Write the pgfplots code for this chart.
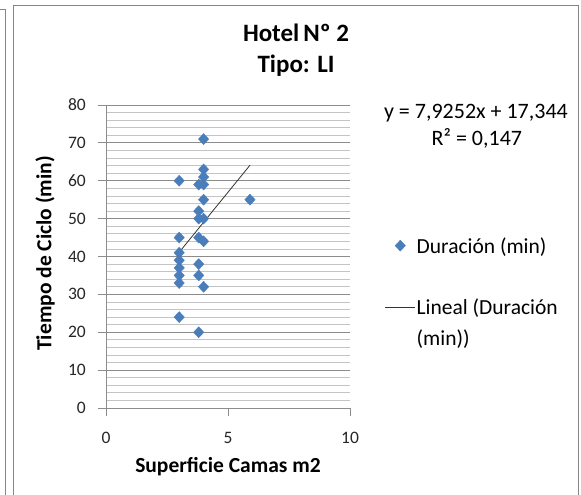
\documentclass[border=0pt]{standalone}
\usepackage{fontspec}
\setmainfont{Carlito}
\usepackage{pgfplots}
\pgfplotsset{compat=1.18}
\definecolor{mk}{HTML}{4A7EBB}
\definecolor{frame}{HTML}{868686}
\definecolor{major}{HTML}{8C8C8C}
\definecolor{minor}{HTML}{C4C4C4}
\pgfplotsset{
  scatleg/.style={legend image code/.code={\path[draw=none] (0bp,0bp) -- (30bp,0bp); \draw[mark repeat=2, mark phase=2, ##1, draw=none] plot coordinates {(0bp,0bp) (15bp,0bp) (30bp,0bp)};}},
  lineleg/.style={legend image code/.code={\draw[##1] (0bp,0bp) -- (30bp,0bp);}},
}
\begin{document}
\begin{tikzpicture}
\useasboundingbox (0,0) rectangle (581bp,495bp);
\fill[white] (0,0) rectangle (581bp,495bp);
\draw[frame,line width=1pt] (13bp,-2bp) -- (13bp,489bp) -- (578bp,489bp) -- (578bp,-2bp);
\draw[frame,line width=1pt] (-1bp,485bp) -- (5bp,485bp) -- (5bp,-2bp);
\begin{axis}[
  at={(106bp,87bp)}, anchor=south west,
  scale only axis, width=244bp, height=303bp,
  xmin=0, xmax=10, ymin=0, ymax=80,
  xtick={0,5,10}, ytick={0,10,...,80},
  minor y tick num=4,
  axis x line*=bottom, axis y line*=left,
  axis line style={major, line width=0.8pt},
  x axis line style={-}, y axis line style={-},
  tick align=outside, major tick length=8bp,
  minor tick length=0pt,
  tick style={major, line width=0.8pt},
  ymajorgrids, yminorgrids,
  major grid style={major, line width=0.8pt},
  minor grid style={minor, line width=0.8pt},
  /pgf/number format/assume math mode=true,
  ticklabel style={font=\fontsize{17.5bp}{21bp}\selectfont, text=black!85, inner sep=0pt},
  xticklabel style={anchor=north, yshift=-16bp},
  yticklabel style={anchor=east, xshift=-12bp},
  xlabel={\textbf{Superficie Camas m2}},
  xlabel style={font=\fontsize{21.5bp}{25bp}\selectfont, inner sep=0pt, at={(axis description cs:0.5,-0.2145)}, anchor=base},
  ylabel={\textbf{Tiempo de Ciclo (min)}},
  ylabel style={font=\fontsize{21.5bp}{25bp}\selectfont, inner sep=0pt, at={(axis description cs:-0.25,0.51)}, anchor=center},
  clip=false,
  legend style={draw=none, fill=none, at={(axis description cs:1.143,0.566)}, anchor=north west,
    font=\fontsize{21.5bp}{24bp}\selectfont, row sep=12.5bp, column sep=1bp, inner sep=0pt, outer sep=0pt,
    nodes={inner sep=0pt}},
  legend cell align=left,
]
\addplot[only marks, mark=diamond*, mark size=5.5bp, mark options={fill=mk, draw=mk, xscale=1.25}, scatleg]
  coordinates {
  (4,71) (4,63) (4,61) (3,60) (3.8,59) (4,59) (4,55) (5.9,55)
  (3.8,52) (3.8,50) (4,50) (3,45) (3.8,45) (4,44) (3,41) (3,39)
  (3.8,38) (3,37) (3,35) (3.8,35) (3,33) (4,32) (3,24) (3.8,20)
  };
\addlegendentry{\strut Duración (min)}
\addlegendimage{empty legend}\addlegendentry{\strut}
\addplot[black!80, line width=0.8pt, no marks, lineleg]
  coordinates {(3,41.12) (5.9,64.10)};
\addlegendentry{\strut Lineal (Duración}
\addlegendimage{empty legend}\addlegendentry{\strut(min))}
\node[font=\bfseries\fontsize{25bp}{30bp}\selectfont, anchor=base] at (axis description cs:0.779,1.211) {Hotel\,Nº 2};
\node[font=\bfseries\fontsize{25bp}{30bp}\selectfont, anchor=base] at (axis description cs:0.779,1.106) {Tipo: LI};
\node[font=\fontsize{22bp}{26bp}\selectfont, anchor=base] at (axis description cs:1.516,0.957) {y = 7,9252x + 17,344};
\node[font=\fontsize{22bp}{26bp}\selectfont, anchor=base] at (axis description cs:1.52,0.868) {R² = 0,147};
\end{axis}
\end{tikzpicture}
\end{document}
